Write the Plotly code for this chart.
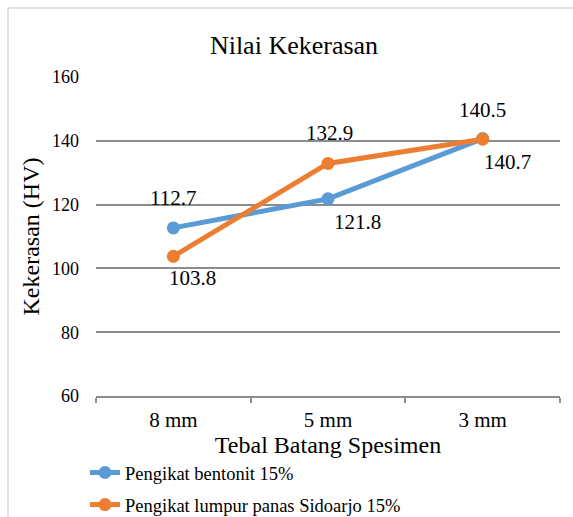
import plotly.graph_objects as go

categories = ["8 mm", "5 mm", "3 mm"]
bentonit = [112.7, 121.8, 140.7]
lumpur = [103.8, 132.9, 140.5]
series_names = ["Pengikat bentonit 15%", "Pengikat lumpur panas Sidoarjo 15%"]
y_ticks = [60, 80, 100, 120, 140, 160]

BLUE = "#5B9BD5"
ORANGE = "#ED7D31"
FONT = "Liberation Serif"

# label offsets (px) for each point (style only)
blue_off = [(0, 30), (29, -23), (25, -23)]
orange_off = [(19, -22), (1, 30), (0, 29)]

W, H = 573, 517
L, R, T, B = 96, 13, 77, 121
pw, ph = W - L - R, H - T - B

fig = go.Figure()
fig.add_trace(go.Scatter(x=categories, y=bentonit, name=series_names[0], mode="lines+markers",
                         line=dict(color=BLUE, width=5), marker=dict(color=BLUE, size=13),
                         legendgroup="a"))
fig.add_trace(go.Scatter(x=categories, y=lumpur, name=series_names[1], mode="lines+markers",
                         line=dict(color=ORANGE, width=5), marker=dict(color=ORANGE, size=13),
                         legendgroup="b"))

ann = []
for vals, offs in ((bentonit, blue_off), (lumpur, orange_off)):
    for c, v, (dx, dy) in zip(categories, vals, offs):
        ann.append(dict(x=c, y=v, text=f"{v:.1f}", showarrow=False, xshift=dx, yshift=dy,
                        font=dict(family=FONT, size=21, color="black"),
                        xanchor="center", yanchor="middle"))

def px_x(p):
    return (p - L) / pw

def px_y(p):
    return (T + ph - p) / ph

fig.update_layout(
    width=W, height=H,
    margin=dict(l=L, r=R, t=T, b=B, autoexpand=False),
    paper_bgcolor="white", plot_bgcolor="white",
    font=dict(family=FONT, color="black"),
    title=dict(text="Nilai Kekerasan", x=294 / W, xanchor="center", y=1 - 45 / H,
               yanchor="middle", yref="container", font=dict(size=26, family=FONT, color="black")),
    xaxis=dict(type="category", range=[-0.5, 2.5], showgrid=False, showline=True,
               linecolor="#8c8c8c", linewidth=1.5, ticks="outside", tickson="boundaries",
               ticklen=5, tickcolor="#8c8c8c", tickwidth=1.5, automargin=False,
               tickfont=dict(size=21, family=FONT), ticklabelstandoff=4,
               title=dict(text="Tebal Batang Spesimen", font=dict(size=24, family=FONT), standoff=2),
               fixedrange=True),
    yaxis=dict(range=[60, 160], tickvals=y_ticks, showgrid=True, gridcolor="#8c8c8c",
               gridwidth=1.5, zeroline=False, showline=False, ticks="", automargin=False,
               tickfont=dict(size=18, family=FONT), ticklabelstandoff=16,
               title=dict(text="Kekerasan (HV)", font=dict(size=24, family=FONT), standoff=5),
               fixedrange=True),
    legend=dict(orientation="v", x=px_x(85), xanchor="left", y=px_y(454), yanchor="top",
                font=dict(size=18.5, family=FONT), tracegroupgap=5, bgcolor="rgba(0,0,0,0)"),
    annotations=ann,
    shapes=[dict(type="rect", xref="paper", yref="paper", x0=px_x(8), x1=px_x(600),
                 y0=px_y(560), y1=px_y(8), line=dict(color="#d9d9d9", width=1.5), layer="below")],
)

fig.write_html("out.html", config={"displayModeBar": False},
               post_script="document.body.style.margin='0';document.body.style.overflow='hidden';")
